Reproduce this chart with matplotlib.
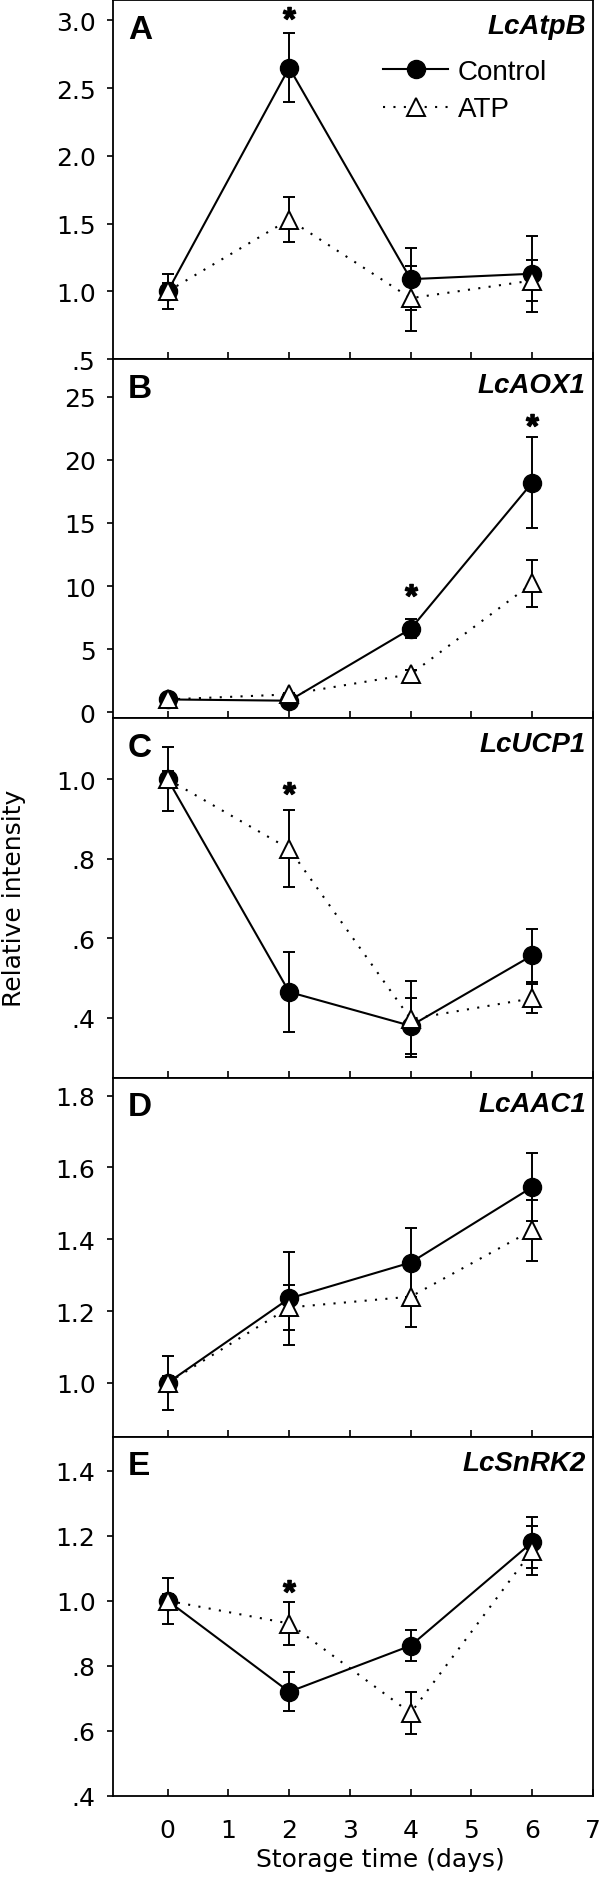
import numpy as np
import matplotlib.pyplot as plt
from matplotlib.textpath import TextPath
from matplotlib.font_manager import FontProperties
from matplotlib.path import Path

plt.rcParams['font.family'] = ['Liberation Sans', 'DejaVu Sans']

# storage days
days = [0, 2, 4, 6]

genes = ["LcAtpB", "LcAOX1", "LcUCP1", "LcAAC1", "LcSnRK2"]
letters = ["A", "B", "C", "D", "E"]

# A: LcAtpB
atpb_ctrl = [1.0, 2.65, 1.09, 1.13]
atpb_ctrl_err = [0.13, 0.255, 0.23, 0.28]
atpb_atp = [1.0, 1.53, 0.95, 1.08]
atpb_atp_err = [0.06, 0.165, 0.24, 0.15]
atpb_star_days = [2]
atpb_star_y = [3.05]

# B: LcAOX1
aox1_ctrl = [1.0, 0.9, 6.6, 18.2]
aox1_ctrl_err = [0.1, 0.1, 0.75, 3.6]
aox1_atp = [1.0, 1.4, 3.0, 10.2]
aox1_atp_err = [0.1, 0.1, 0.3, 1.9]
aox1_star_days = [4, 6]
aox1_star_y = [9.7, 23.15]

# C: LcUCP1
ucp1_ctrl = [1.0, 0.465, 0.38, 0.557]
ucp1_ctrl_err = [0.08, 0.1, 0.07, 0.067]
ucp1_atp = [1.0, 0.825, 0.397, 0.449]
ucp1_atp_err = [0.02, 0.097, 0.095, 0.037]
ucp1_star_days = [2]
ucp1_star_y = [0.977]

# D: LcAAC1
aac1_ctrl = [1.0, 1.235, 1.335, 1.545]
aac1_ctrl_err = [0.075, 0.13, 0.095, 0.095]
aac1_atp = [1.0, 1.21, 1.24, 1.425]
aac1_atp_err = [0.02, 0.062, 0.085, 0.085]
aac1_star_days = []
aac1_star_y = []

# E: LcSnRK2
snrk2_ctrl = [1.0, 0.72, 0.862, 1.18]
snrk2_ctrl_err = [0.07, 0.06, 0.047, 0.078]
snrk2_atp = [1.0, 0.93, 0.655, 1.154]
snrk2_atp_err = [0.02, 0.065, 0.066, 0.075]
snrk2_star_days = [2]
snrk2_star_y = [1.046]

ylims = [(0.5, 3.15), (-0.5, 28.0), (0.25, 1.153), (0.85, 1.85), (0.4, 1.504)]
yticks = [
    [0.5, 1.0, 1.5, 2.0, 2.5, 3.0],
    [0, 5, 10, 15, 20, 25],
    [0.4, 0.6, 0.8, 1.0],
    [1.0, 1.2, 1.4, 1.6, 1.8],
    [0.4, 0.6, 0.8, 1.0, 1.2, 1.4],
]
ytick_labels = [
    [".5", "1.0", "1.5", "2.0", "2.5", "3.0"],
    ["0", "5", "10", "15", "20", "25"],
    [".4", ".6", ".8", "1.0"],
    ["1.0", "1.2", "1.4", "1.6", "1.8"],
    [".4", ".6", ".8", "1.0", "1.2", "1.4"],
]
xticks = [0, 1, 2, 3, 4, 5, 6, 7]

panels = [
    (atpb_ctrl, atpb_ctrl_err, atpb_atp, atpb_atp_err, atpb_star_days, atpb_star_y),
    (aox1_ctrl, aox1_ctrl_err, aox1_atp, aox1_atp_err, aox1_star_days, aox1_star_y),
    (ucp1_ctrl, ucp1_ctrl_err, ucp1_atp, ucp1_atp_err, ucp1_star_days, ucp1_star_y),
    (aac1_ctrl, aac1_ctrl_err, aac1_atp, aac1_atp_err, aac1_star_days, aac1_star_y),
    (snrk2_ctrl, snrk2_ctrl_err, snrk2_atp, snrk2_atp_err, snrk2_star_days, snrk2_star_y),
]

# centred bold asterisk marker (closepoly vertices left out of the centring)
tp = TextPath((0, 0), "*", prop=FontProperties(family="Liberation Sans", weight="bold"))
v = tp.vertices.copy()
real = tp.codes != Path.CLOSEPOLY
ctr = (v[real].min(axis=0) + v[real].max(axis=0)) / 2
v = v - ctr
v[~real] = v[real][0]
star = Path(v, tp.codes)

FS = 20
TICK_FONT = dict(family="DejaVu Sans", size=18)

fig = plt.figure(figsize=(6, 18.83), dpi=100)
axes = fig.subplots(5, 1, sharex=True)
fig.subplots_adjust(left=0.1883, right=0.9883, top=0.9995, bottom=0.0457, hspace=0)

for i, ax in enumerate(axes):
    ctrl, ctrl_err, atp, atp_err, sd, sy = panels[i]
    ax.errorbar(days, ctrl, yerr=ctrl_err, fmt="none", ecolor="black",
                elinewidth=1.4, capsize=4.5, capthick=1.4, zorder=2)
    ax.errorbar(days, atp, yerr=atp_err, fmt="none", ecolor="black",
                elinewidth=1.4, capsize=4.5, capthick=1.4, zorder=2)
    ax.plot(days, ctrl, "-", color="black", lw=1.5, marker="o", ms=13,
            mfc="black", mec="black", label="Control", zorder=3)
    ax.plot(days, atp, color="black", lw=1.5, ls=(0, (1, 4)), marker="^", ms=13,
            mfc="white", mec="black", mew=1.4, label="ATP", zorder=4)
    if sd:
        ax.plot(sd, sy, ls="none", marker=star, ms=9, color="black", zorder=5)

    ax.set_ylim(*ylims[i])
    ax.set_yticks(yticks[i], ytick_labels[i], **TICK_FONT)
    ax.set_xlim(-0.9, 7.0)
    ax.set_xticks(xticks)
    ax.tick_params(axis="y", direction="out", length=4.5, width=1.2, pad=8)
    ax.tick_params(axis="x", direction="in", length=5, width=1.2, pad=16)
    for sp in ax.spines.values():
        sp.set_linewidth(1.3)

    ax.text(0.031, 0.895, letters[i], transform=ax.transAxes, fontsize=24,
            fontweight="bold", ha="left", va="baseline")
    ax.text(0.985, 0.908, genes[i], transform=ax.transAxes, fontsize=FS,
            fontweight="bold", fontstyle="italic", ha="right", va="baseline")

for lab in axes[-1].get_xticklabels():
    lab.set_fontfamily("DejaVu Sans")
    lab.set_fontsize(18)

axes[0].legend(loc="upper left", bbox_to_anchor=(0.5625, 0.835), frameon=False,
               fontsize=FS, handlelength=2.35, handletextpad=0.35,
               labelspacing=0.4, borderpad=0, borderaxespad=0)

# x label is centred on the 0-7 day range, not on the axes
axes[-1].set_xlabel("Storage time (days)", **TICK_FONT)
axes[-1].xaxis.set_label_coords(0.557, -0.142)
fig.text(0.024, 0.523, "Relative intensity", rotation=90,
         ha="center", va="center", **TICK_FONT)

fig.savefig("out.png", dpi=100)
